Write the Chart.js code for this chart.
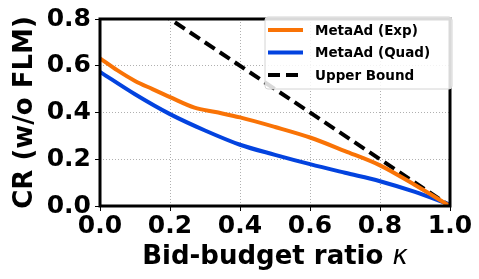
<!DOCTYPE html>
<html>
<head>
<meta charset="utf-8">
<script src="https://cdn.jsdelivr.net/npm/chart.js@4"></script>
<style>
  html, body { margin: 0; padding: 0; background: #fff; }
</style>
</head>
<body>
<canvas id="crChart" width="479" height="279"></canvas>
<script>
// data
const kappaExp = [0, 0.05, 0.1, 0.15, 0.2, 0.27, 0.33, 0.4, 0.5, 0.6, 0.7, 0.8, 0.9, 1.0];
const crExp = [0.632, 0.58, 0.535, 0.5, 0.466, 0.421, 0.402, 0.379, 0.338, 0.293, 0.235, 0.174, 0.09, 0.0];
const kappaQuad = [0, 0.1, 0.2, 0.3, 0.4, 0.5, 0.6, 0.7, 0.8, 0.9, 1.0];
const crQuad = [0.574, 0.478, 0.393, 0.323, 0.262, 0.219, 0.179, 0.142, 0.106, 0.06, 0.005];
const kappaBound = [0, 1];
const crBound = [1, 0];
const xTicks = [0, 0.2, 0.4, 0.6, 0.8, 1.0];
const yTicks = [0, 0.2, 0.4, 0.6, 0.8];
const xTitle = 'Bid-budget ratio ';
const xTitleSym = 'κ';
const yTitle = 'CR (w/o FLM)';

const toPts = (xs, ys) => xs.map((x, i) => ({ x: x, y: ys[i] }));
const FONT = "'DejaVu Sans', sans-serif";

// axis titles (x title mixes bold text with an italic kappa)
const axisTitles = {
  id: 'axisTitles',
  afterDraw(chart) {
    const ctx = chart.ctx, a = chart.chartArea;
    ctx.save();
    ctx.fillStyle = '#000';
    ctx.textBaseline = 'alphabetic';
    const f1 = 'bold 26px ' + FONT, f2 = 'italic 26px ' + FONT;
    ctx.font = f1;
    const w1 = ctx.measureText(xTitle).width;
    ctx.font = f2;
    const w2 = ctx.measureText(xTitleSym).width;
    const sx = (a.left + a.right) / 2 - (w1 + w2) / 2;
    ctx.font = f1;
    ctx.fillText(xTitle, sx, 264);
    ctx.font = f2;
    ctx.fillText(xTitleSym, sx + w1, 264);
    ctx.translate(25, (a.top + a.bottom) / 2);
    ctx.rotate(-Math.PI / 2);
    ctx.font = f1;
    ctx.textAlign = 'center';
    ctx.textBaseline = 'middle';
    ctx.fillText(yTitle, 0, 0);
    ctx.restore();
  }
};

// legend drawn inside the plot, upper right
const innerLegend = {
  id: 'innerLegend',
  afterDraw(chart) {
    const ctx = chart.ctx;
    const a = chart.chartArea;
    const x0 = a.right - 185, y0 = a.top - 2, w = 187, h = 72;
    ctx.save();
    ctx.fillStyle = 'rgba(255,255,255,0.85)';
    ctx.strokeStyle = '#d4d4d4';
    ctx.lineWidth = 1;
    ctx.beginPath();
    ctx.roundRect(x0, y0, w, h, 3);
    ctx.fill();
    ctx.stroke();
    ctx.font = 'bold 13.5px ' + FONT;
    ctx.textBaseline = 'middle';
    chart.data.datasets.forEach((ds, i) => {
      const yy = y0 + 13 + i * 22.5;
      ctx.strokeStyle = ds.borderColor;
      ctx.lineWidth = 4;
      ctx.setLineDash(ds.borderDash || []);
      ctx.beginPath();
      ctx.moveTo(x0 + 3, yy);
      ctx.lineTo(x0 + 38, yy);
      ctx.stroke();
      ctx.setLineDash([]);
      ctx.fillStyle = '#000';
      ctx.fillText(ds.label, x0 + 50, yy + 1);
    });
    ctx.restore();
  }
};

// thick black frame around the plot
const frame = {
  id: 'frame',
  afterDatasetsDraw(chart) {
    const ctx = chart.ctx, a = chart.chartArea;
    ctx.save();
    ctx.strokeStyle = '#000';
    ctx.lineWidth = 3;
    ctx.strokeRect(a.left, a.top, a.right - a.left, a.bottom - a.top);
    ctx.restore();
  }
};

new Chart(document.getElementById('crChart'), {
  type: 'line',
  data: {
    datasets: [
      { label: 'MetaAd (Exp)', data: toPts(kappaExp, crExp), borderColor: '#f97306', borderWidth: 4, pointRadius: 0, cubicInterpolationMode: 'monotone', fill: false },
      { label: 'MetaAd (Quad)', data: toPts(kappaQuad, crQuad), borderColor: '#0343df', borderWidth: 4, pointRadius: 0, cubicInterpolationMode: 'monotone', fill: false },
      { label: 'Upper Bound', data: toPts(kappaBound, crBound), borderColor: '#000', borderWidth: 4, borderDash: [12, 6], pointRadius: 0, fill: false }
    ]
  },
  options: {
    responsive: false,
    animation: false,
    devicePixelRatio: 1,
    layout: { padding: { top: 7, right: 29, left: 0, bottom: 0 } },
    plugins: { legend: { display: false }, tooltip: { enabled: false } },
    scales: {
      x: {
        type: 'linear', min: 0, max: 1,
        afterBuildTicks: s => { s.ticks = xTicks.map(v => ({ value: v })); },
        afterFit: s => { s.height = 73; },
        ticks: { color: '#000', font: { family: FONT, size: 25, weight: 'bold' }, padding: 0, maxRotation: 0, callback: v => v.toFixed(1) },
        grid: { color: '#b0b0b0', lineWidth: 1, drawTicks: true, tickLength: 5, tickColor: '#000', tickBorderDash: [] },
        border: { display: false, dash: [1, 2] }
      },
      y: {
        min: 0, max: 0.8,
        afterBuildTicks: s => { s.ticks = yTicks.map(v => ({ value: v })); },
        afterFit: s => { s.width = 100; },
        ticks: { color: '#000', font: { family: FONT, size: 25, weight: 'bold' }, padding: 4, callback: v => v.toFixed(1) },
        grid: { color: '#b0b0b0', lineWidth: 1, drawTicks: true, tickLength: 5, tickColor: '#000', tickBorderDash: [] },
        border: { display: false, dash: [1, 2] }
      }
    }
  },
  plugins: [frame, innerLegend, axisTitles]
});
</script>
</body>
</html>
